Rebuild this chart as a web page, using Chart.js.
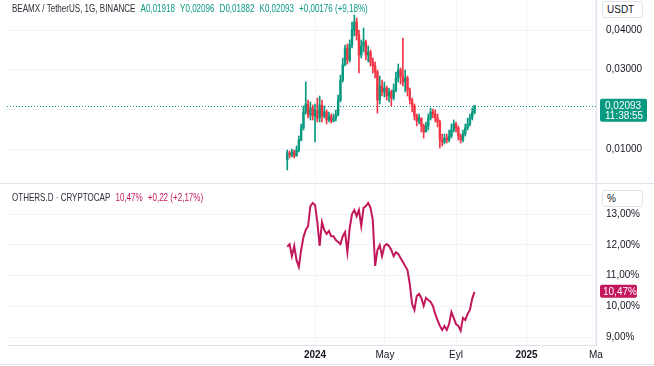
<!DOCTYPE html>
<html>
<head>
<meta charset="utf-8">
<script src="https://cdn.jsdelivr.net/npm/chart.js@4"></script>
<style>
  html, body { margin: 0; padding: 0; background: #fff; }
  #wrap { position: relative; width: 654px; height: 366px; overflow: hidden; background: #fff;
          font-family: "Liberation Sans", Arial, sans-serif; font-size: 10px; color: #131722; }
  .pane { position: absolute; left: 0; width: 654px; }
  .legend { position: absolute; left: 12px; white-space: nowrap; line-height: 14px; font-size: 11px;
            transform: scaleX(0.73); transform-origin: left center; color: #2a2e39; }
  .legend span { margin-right: 7px; }
  .up { color: #089981 !important; }
  .pink { color: #c2185b !important; }
  .unit { position: absolute; left: 602px; width: 41px; height: 17px; line-height: 16px; border: 1px solid #e0e3eb;
          border-radius: 3px; background: #fff; padding-left: 4px; box-sizing: border-box; color: #131722; }
  .sep { position: absolute; left: 0; width: 654px; height: 1px; background: #e0e3eb; }
</style>
</head>
<body>
<div id="wrap">
  <div class="pane" style="top:0;height:183px"><canvas id="priceChart"></canvas></div>
  <div class="sep" style="top:183px"></div>
  <div class="pane" style="top:184px;height:182px"><canvas id="domChart"></canvas></div>
  <div class="sep" style="top:364px"></div>

  <div class="legend" style="top:1px">
    <span>BEAMX / TetherUS, 1G, BINANCE</span><span class="up">A0,01918</span><span class="up">Y0,02096</span><span class="up">D0,01882</span><span class="up">K0,02093</span><span class="up">+0,00176 (+9,18%)</span>
  </div>
  <div class="legend" style="top:190px">
    <span>OTHERS.D · CRYPTOCAP</span><span class="pink">10,47%</span><span class="pink">+0,22 (+2,17%)</span>
  </div>
  <div class="unit" style="top:1px">USDT</div>
  <div class="unit" style="top:190px">%</div>
</div>

<script>
// days counted from 1 Jan 2024, one candle per 4 days
const startDay = -48;
const stepDays = 4;

const opens = [0.00723,0.00899,0.00849,0.00924,0.00823,
  0.00975,0.01227,0.01529,0.01933,0.02134,
  0.01857,0.02034,0.01832,0.01983,0.01782,
  0.02109,0.01832,0.01933,0.01731,0.01832,
  0.01706,0.01782,0.01857,0.02235,0.02740,
  0.03118,0.03546,0.03244,0.03622,0.04000,
  0.04202,0.03874,0.03370,0.03597,0.03697,
  0.03370,0.03445,0.03193,0.03092,0.02941,
  0.02235,0.02588,0.02437,0.02538,0.02336,
  0.02437,0.02286,0.02487,0.02790,0.02992,
  0.02840,0.02689,0.02790,0.02487,0.02235,
  0.02084,0.01832,0.01706,0.01782,0.01580,
  0.01429,0.01580,0.01782,0.01933,0.01882,
  0.01782,0.01681,0.01227,0.01176,0.01277,
  0.01227,0.01328,0.01479,0.01630,0.01529,
  0.01328,0.01227,0.01378,0.01529,0.01630,
  0.01782,0.01918];

const highs = [0.00975,0.00950,0.01000,0.00975,0.01076,
  0.01328,0.01630,0.02084,0.02689,0.02235,
  0.02185,0.02109,0.02134,0.02286,0.02336,
  0.02235,0.02084,0.01983,0.01933,0.01882,
  0.01882,0.01983,0.02361,0.02866,0.03294,
  0.03622,0.03647,0.03748,0.04202,0.04378,
  0.04303,0.04000,0.03748,0.04050,0.03748,
  0.03597,0.03496,0.03294,0.03193,0.02992,
  0.02840,0.02740,0.02689,0.02588,0.02538,
  0.02487,0.02639,0.02941,0.03143,0.03042,
  0.03798,0.02992,0.02840,0.02538,0.02286,
  0.02134,0.01882,0.01882,0.01782,0.01630,
  0.01681,0.01882,0.02034,0.02008,0.01983,
  0.01882,0.01731,0.01378,0.01378,0.01378,
  0.01479,0.01630,0.01731,0.01681,0.01580,
  0.01378,0.01479,0.01630,0.01782,0.01882,
  0.02034,0.02096];

const lows = [0.00471,0.00773,0.00798,0.00773,0.00823,
  0.00924,0.01202,0.01479,0.01882,0.01782,
  0.01731,0.01731,0.01176,0.01681,0.01681,
  0.01681,0.01782,0.01630,0.01681,0.01655,
  0.01681,0.01706,0.01832,0.02185,0.02689,
  0.03092,0.03143,0.03193,0.03546,0.03849,
  0.03748,0.02916,0.03294,0.03445,0.03244,
  0.03193,0.03092,0.02916,0.02790,0.01908,
  0.02134,0.02336,0.02311,0.02235,0.02185,
  0.02084,0.02235,0.02437,0.02689,0.02639,
  0.02588,0.02437,0.02336,0.02134,0.01933,
  0.01731,0.01580,0.01630,0.01429,0.01277,
  0.01429,0.01479,0.01731,0.01782,0.01681,
  0.01555,0.01025,0.01076,0.01126,0.01151,
  0.01176,0.01277,0.01429,0.01429,0.01227,
  0.01151,0.01176,0.01328,0.01479,0.01580,
  0.01731,0.01882];

const closes = [0.00899,0.00849,0.00924,0.00823,0.00975,
  0.01227,0.01529,0.01933,0.02134,0.01857,
  0.02034,0.01832,0.01983,0.01782,0.02109,
  0.01832,0.01933,0.01731,0.01832,0.01706,
  0.01782,0.01857,0.02235,0.02740,0.03118,
  0.03546,0.03244,0.03622,0.04000,0.04202,
  0.03874,0.03370,0.03597,0.03697,0.03370,
  0.03445,0.03193,0.03092,0.02941,0.02235,
  0.02588,0.02437,0.02538,0.02336,0.02437,
  0.02286,0.02487,0.02790,0.02992,0.02840,
  0.02689,0.02790,0.02487,0.02235,0.02084,
  0.01832,0.01706,0.01782,0.01580,0.01429,
  0.01580,0.01782,0.01933,0.01882,0.01782,
  0.01681,0.01227,0.01176,0.01277,0.01227,
  0.01328,0.01479,0.01630,0.01529,0.01328,
  0.01227,0.01378,0.01529,0.01630,0.01782,
  0.01918,0.02093];

// OTHERS.D dominance, %
const dominance = [11.93,12.02,11.63,11.96,11.50,
  11.28,11.83,12.25,12.48,12.61,
  13.26,13.36,13.29,12.74,11.96,
  12.74,12.48,12.35,12.45,12.28,
  12.28,12.15,12.09,12.02,12.28,
  12.41,11.76,12.54,13.00,13.13,
  12.93,13.13,12.61,13.20,13.26,
  13.36,13.20,12.80,11.31,11.83,
  11.99,11.63,11.96,12.02,11.96,
  11.83,11.63,11.76,11.70,11.57,
  11.44,11.31,11.18,10.72,10.07,
  9.88,10.33,10.40,10.27,10.01,
  10.27,10.20,10.14,10.01,9.75,
  9.55,9.36,9.23,9.36,9.23,
  9.42,9.81,9.62,9.42,9.36,
  9.20,9.62,9.55,9.75,9.88,
  10.25,10.47];

const tickDays = [0, 121, 244, 366, 486];
const tickLabels = ['2024', 'May', 'Eyl', '2025', 'Ma'];
const priceTicks = [0.01, 0.02, 0.03, 0.04];
const domTicks = [9, 10, 11, 12, 13];

const UP = '#089981';
const DOWN = '#f23645';
const PINK = '#c2185b';
const GRID = '#f0f3fa';
const FONT = '"Liberation Sans", Arial, sans-serif';
const xMin = -533, xMax = 486.2;

Chart.defaults.font.family = FONT;
Chart.defaults.font.size = 10;
Chart.defaults.color = '#131722';
Chart.defaults.animation = false;

const days = closes.map((_, i) => startDay + stepDays * i);
const candleColors = closes.map((c, i) => c >= opens[i] ? UP : DOWN);

// keep Chart.js from reserving label space above/below the plot
function noPad(s) {
    s.paddingTop = 0;
    s.paddingBottom = 0;
    s.paddingLeft = 0;
    s.paddingRight = 0;
}

function xScale(showLabels) {
    return {
        type: 'linear',
        min: xMin,
        max: xMax,
        offset: false,
        afterBuildTicks: s => { s.ticks = tickDays.map(v => ({ value: v })); },
        ticks: {
            display: showLabels,
            maxRotation: 0,
            autoSkip: false,
            padding: 4,
            callback: v => tickLabels[tickDays.indexOf(v)],
            font: ctx => ({ weight: (ctx.tick && (ctx.tick.value === 0 || ctx.tick.value === 366)) ? 'bold' : 'normal' })
        },
        grid: { color: GRID, drawTicks: false, offset: false },
        border: { display: showLabels, color: '#e0e3eb' },
        afterFit: s => { s.height = showLabels ? 21 : 0; noPad(s); }
    };
}

function yScale(min, max, values, fmt) {
    return {
        position: 'right',
        min: min,
        max: max,
        afterBuildTicks: s => { s.ticks = values.map(v => ({ value: v })); },
        ticks: { padding: 10, callback: fmt },
        grid: { color: GRID, drawTicks: false },
        border: { color: '#e0e3eb' },
        afterFit: s => { s.width = 58; noPad(s); }
    };
}

const lastPricePlugin = {
    id: 'lastPrice',
    beforeDatasetsDraw(chart) {
        const { ctx, chartArea, scales } = chart;
        const y = Math.round(scales.y.getPixelForValue(closes[closes.length - 1])) + 0.5;
        ctx.save();
        ctx.strokeStyle = UP;
        ctx.lineWidth = 1;
        ctx.setLineDash([1, 2]);
        ctx.beginPath();
        ctx.moveTo(chartArea.left, y);
        ctx.lineTo(chartArea.right, y);
        ctx.stroke();
        ctx.restore();
    },
    afterDraw(chart) {
        const { ctx, chartArea, scales } = chart;
        const y = scales.y.getPixelForValue(closes[closes.length - 1]);
        const x = chartArea.right + 4;
        ctx.save();
        ctx.fillStyle = UP;
        ctx.beginPath();
        ctx.roundRect(x, y - 7, 47, 23, 2);
        ctx.fill();
        ctx.fillStyle = '#fff';
        ctx.textBaseline = 'middle';
        ctx.textAlign = 'left';
        ctx.font = '10px ' + FONT;
        ctx.fillText(closes[closes.length - 1].toFixed(5).replace('.', ','), x + 5, y + 0.5);
        ctx.fillText('11:38:55', x + 5, y + 10.5);
        ctx.restore();
    }
};

const lastDomPlugin = {
    id: 'lastDom',
    afterDraw(chart) {
        const { ctx, chartArea, scales } = chart;
        const v = dominance[dominance.length - 1];
        const y = scales.y.getPixelForValue(v);
        const x = chartArea.right + 4;
        ctx.save();
        ctx.fillStyle = PINK;
        ctx.beginPath();
        ctx.roundRect(x, y - 7, 37, 13, 2);
        ctx.fill();
        ctx.fillStyle = '#fff';
        ctx.textBaseline = 'middle';
        ctx.font = '10px ' + FONT;
        ctx.fillText(v.toFixed(2).replace('.', ',') + '%', x + 3, y);
        ctx.restore();
    }
};

new Chart(document.getElementById('priceChart'), {
    type: 'bar',
    data: {
        datasets: [{
            label: 'wick',
            data: days.map((d, i) => ({ x: d, y: [lows[i], highs[i]] })),
            backgroundColor: candleColors,
            barThickness: 1,
            grouped: false,
            order: 2
        }, {
            label: 'body',
            data: days.map((d, i) => ({ x: d, y: [opens[i], closes[i]] })),
            backgroundColor: candleColors,
            barThickness: 1.8,
            minBarLength: 1,
            grouped: false,
            order: 1
        }]
    },
    options: {
        responsive: true,
        maintainAspectRatio: false,
        layout: { padding: { left: 7, right: 0, top: 0, bottom: 0 } },
        plugins: { legend: { display: false }, tooltip: { enabled: false } },
        scales: {
            x: xScale(false),
            y: yScale(0.001429, 0.047563, priceTicks, v => v.toFixed(5).replace('.', ','))
        }
    },
    plugins: [lastPricePlugin]
});

new Chart(document.getElementById('domChart'), {
    type: 'line',
    data: {
        datasets: [{
            label: 'OTHERS.D',
            data: days.map((d, i) => ({ x: d, y: dominance[i] })),
            borderColor: PINK,
            borderWidth: 2,
            pointRadius: 0,
            tension: 0
        }]
    },
    options: {
        responsive: true,
        maintainAspectRatio: false,
        layout: { padding: { left: 7, right: 0, top: 0, bottom: 0 } },
        plugins: { legend: { display: false }, tooltip: { enabled: false } },
        scales: {
            x: xScale(true),
            y: yScale(8.74, 13.976, domTicks, v => v.toFixed(2).replace('.', ',') + '%')
        }
    },
    plugins: [lastDomPlugin]
});
</script>
</body>
</html>
